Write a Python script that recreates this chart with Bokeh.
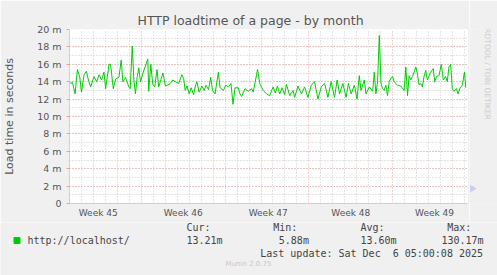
import math
from bokeh.plotting import figure
from bokeh.layouts import column, row
from bokeh.models import FixedTicker, Range1d, ColumnDataSource
from bokeh.core.properties import value
from bokeh.embed import file_html
from bokeh.resources import INLINE

# ---- data (days since left edge of graph, load time in ms) ----
days = [0.0, 0.25, 0.47, 0.66, 0.86, 1.0, 1.22, 1.41, 1.58, 1.77, 2.05, 2.27, 2.47, 2.69, 2.88,
        3.02, 3.30, 3.43, 3.66, 3.85, 4.13, 4.32, 4.46, 4.68, 4.96, 5.07, 5.24, 5.38, 5.51, 5.65,
        5.79, 5.93, 6.21, 6.34, 6.54, 6.62, 6.79, 6.96, 7.12, 7.31, 7.45, 7.67, 7.81, 8.01, 8.20,
        8.42, 8.62, 8.84, 9.12, 9.39, 9.53, 9.67, 9.81, 10.0, 10.17, 10.37, 10.5, 10.64, 10.83, 11.06,
        11.25, 11.41, 11.61, 11.8, 11.95, 12.16, 12.44, 12.58, 12.86, 13.05, 13.28, 13.49, 13.66, 13.83, 14.1,
        14.24, 14.38, 14.66, 14.94, 15.21,
        15.35, 15.71, 15.9, 16.18, 16.46, 16.73, 17.01, 17.2, 17.37, 17.56, 17.76, 17.98, 18.12, 18.4, 18.68,
        18.81, 19.09, 19.37, 19.64, 19.92, 20.2, 20.47, 20.76, 21.03, 21.31, 21.59, 21.86, 22.14, 22.36, 22.56,
        22.84, 23.11, 23.3, 23.53, 23.8, 24.02, 24.21, 24.35, 24.63, 24.77, 25.05, 25.33, 25.46, 25.6, 25.74,
        25.88, 26.02, 26.16, 26.29, 26.43, 26.57, 26.71, 26.85, 26.99, 27.12, 27.4, 27.68, 27.96, 28.1, 28.24,
        28.37, 28.51, 28.65, 28.79, 28.93, 29.07, 29.21, 29.34, 29.48, 29.62, 29.76, 29.9, 30.17, 30.39, 30.51,
        30.67, 30.87, 31.06, 31.23, 31.42, 31.56, 31.7, 31.84, 31.98, 32.11, 32.34, 32.45, 32.61, 32.81, 33.0,
        33.11]
load_ms = [13.8, 13.9, 12.6, 15.4, 14.5, 12.8, 14.8, 15.2, 14.2, 13.4, 14.6, 14.0, 14.8, 14.2, 15.1,
           13.2, 16.0, 16.0, 13.2, 14.3, 14.5, 16.5, 14.0, 14.5, 13.4, 13.2, 18.1, 14.2, 12.6, 14.5,
           15.6, 14.0, 15.3, 15.8, 16.6, 12.9, 16.0, 13.7, 13.4, 15.4, 13.4, 14.4, 15.0, 13.5, 13.6,
           13.8, 14.2, 14.0, 13.8, 14.8, 14.4, 13.0, 13.5, 12.6, 13.3, 12.5, 13.4, 14.0, 12.8, 13.5,
           13.0, 13.6, 13.1, 14.5, 13.0, 12.6, 15.1, 13.3, 13.0, 13.6, 13.4, 13.8, 11.4, 13.3, 13.3,
           12.6, 12.3, 13.2, 12.9, 13.2,
           12.8, 15.4, 13.8, 13.0, 12.6, 12.4, 13.4, 12.7, 13.5, 12.6, 13.3, 12.5, 13.7, 12.4, 13.0,
           12.2, 13.5, 12.6, 13.4, 12.2, 13.6, 14.0, 12.0, 13.4, 13.8, 12.2, 14.0, 12.2, 14.2, 12.6,
           13.8, 12.2, 13.8, 12.6, 13.6, 12.0, 14.7, 13.0, 14.2, 12.6, 13.4, 12.9, 15.1, 12.6, 14.0,
           19.3, 13.8, 13.2, 13.0, 13.6, 12.4, 14.0, 14.4, 14.6, 14.0, 13.6, 13.5, 13.0, 15.7, 12.4,
           14.7, 14.2, 14.6, 15.1, 15.7, 14.9, 13.6, 13.8, 13.4, 14.6, 15.3, 14.2, 15.1, 15.5, 14.0,
           14.6, 14.7, 16.0, 14.2, 14.6, 14.0, 15.7, 16.0, 13.2, 12.9, 13.2, 12.6, 13.2, 13.6, 15.1,
           13.3]

week_labels = ["Week 45", "Week 46", "Week 47", "Week 48", "Week 49"]
week_label_pos = [2.4, 9.5, 16.6, 23.5, 30.5]
week_bounds = [6, 13, 20, 27]
day_lines = [d for d in range(1, 34) if d not in week_bounds]
y_ticks = [0, 2, 4, 6, 8, 10, 12, 14, 16, 18, 20]
y_tick_labels = ["0", "2 m", "4 m", "6 m", "8 m", "10 m", "12 m", "14 m", "16 m", "18 m", "20 m"]

title_text = "HTTP loadtime of a page - by month"
y_title = "Load time in seconds"
series_name = "http://localhost/"
stat_names = ["Cur:", "Min:", "Avg:", "Max:"]
stat_values = ["13.21m", "5.88m", "13.60m", "130.17m"]
last_update = "Last update: Sat Dec \u00a06 05:00:08 2025"
side_text = "RRDTOOL / TOBI OETIKER"
footer = "Munin 2.0.75"

BG = "#f0f0f0"
GRID_RED = "#e8a4a4"
GRID_GRAY = "#c8c8c8"
AXIS_COL = "#c8ccf8"
TXT = "#555555"
LEG = "#444444"
MONO = "DejaVu Sans Mono"
SANS = "DejaVu Sans"

# layout sizes (pixels)
W, H = 497, 275
MAIN_W, MAIN_H = 469, 222
SIDE_W = W - MAIN_W
LEG_H = H - MAIN_H


def strip(w, h):
    f = figure(width=w, height=h, output_backend="svg", toolbar_location=None,
               x_range=Range1d(0, w), y_range=Range1d(h, 0),
               x_axis_type=None, y_axis_type=None, min_border=0)
    f.grid.visible = False
    f.outline_line_color = None
    f.background_fill_color = BG
    f.border_fill_color = BG
    return f


def txt(f, x, y, s, size, color=TXT, font=SANS, align="left", angle=0.0):
    f.text(x=[x], y=[y], text=[s], text_font=value(font), text_font_size=size,
           text_color=color, text_align=align, text_baseline="middle", angle=angle)


# ---- main chart ----
p = figure(width=MAIN_W, height=MAIN_H, output_backend="svg", toolbar_location=None,
           x_range=Range1d(0, 33.25), y_range=Range1d(0, 20),
           min_border_left=67, min_border_right=2, min_border_top=29, min_border_bottom=19)
p.border_fill_color = BG
p.background_fill_color = "white"
p.outline_line_color = None

p.title.text = title_text
p.title.align = "left"
p.title.offset = 68
p.title.text_font = SANS
p.title.text_font_size = "12.5px"
p.title.text_font_style = "normal"
p.title.text_color = TXT
p.title.standoff = 4

p.yaxis.ticker = FixedTicker(ticks=y_ticks, minor_ticks=list(range(0, 21)))
p.yaxis.major_label_overrides = {t: l for t, l in zip(y_ticks, y_tick_labels)}
p.yaxis.major_label_text_font = SANS
p.yaxis.major_label_text_font_size = "9.5px"
p.yaxis.major_label_text_color = TXT
p.yaxis.major_tick_out = 3
p.yaxis.major_tick_in = 0
p.yaxis.major_tick_line_color = GRID_RED
p.yaxis.minor_tick_line_color = None
p.yaxis.major_label_standoff = 4
p.yaxis.axis_line_color = AXIS_COL
p.yaxis.axis_label = y_title
p.yaxis.axis_label_text_font = SANS
p.yaxis.axis_label_text_font_style = "normal"
p.yaxis.axis_label_text_font_size = "11px"
p.yaxis.axis_label_text_color = TXT
p.yaxis.axis_label_standoff = 18

p.xaxis.ticker = FixedTicker(ticks=week_label_pos)
p.xaxis.major_label_overrides = {t: l for t, l in zip(week_label_pos, week_labels)}
p.xaxis.major_label_text_font = SANS
p.xaxis.major_label_text_font_size = "9px"
p.xaxis.major_label_text_color = TXT
p.xaxis.major_tick_line_color = None
p.xaxis.minor_tick_line_color = None
p.xaxis.major_tick_out = 0
p.xaxis.major_tick_in = 0
p.xaxis.major_label_standoff = 4
p.xaxis.axis_line_color = AXIS_COL

p.ygrid.grid_line_color = GRID_RED
p.ygrid.grid_line_dash = "1 2"
p.ygrid.minor_grid_line_color = GRID_GRAY
p.ygrid.minor_grid_line_dash = "1 2"
p.xgrid.ticker = FixedTicker(ticks=week_bounds, minor_ticks=day_lines)
p.xgrid.grid_line_color = GRID_RED
p.xgrid.grid_line_dash = "1 2"
p.xgrid.minor_grid_line_color = GRID_GRAY
p.xgrid.minor_grid_line_dash = "1 2"

src = ColumnDataSource(dict(x=days, y=load_ms))
p.line("x", "y", source=src, line_color="#00cc00", line_width=1)

# ---- right strip ----
side = strip(SIDE_W, MAIN_H)
txt(side, 18, 53.5, side_text, "7.5px", color="#cccccc", align="center", angle=-math.pi / 2)
side.scatter(x=[3], y=[203], marker="triangle", size=6, angle=-math.pi / 2,
             fill_color=AXIS_COL, line_color=AXIS_COL)

# ---- legend strip ----
leg = strip(W, LEG_H)
y0 = MAIN_H
leg.scatter(x=[16.5], y=[240 - y0], marker="square", size=6, color="#00cc00")
txt(leg, 27, 240 - y0, series_name, "10px", color=LEG, font=MONO)
name_x = [186, 272.7, 360, 446.7]
val_x = [186, 278.3, 360, 441]
for nm, vl, nx, vx in zip(stat_names, stat_values, name_x, val_x):
    txt(leg, nx, 227 - y0, nm, "10px", color=LEG, font=MONO)
    txt(leg, vx, 240 - y0, vl, "10px", color=LEG, font=MONO)
txt(leg, 482.5, 252.5 - y0, last_update, "10px", color=LEG, font=MONO, align="right")
txt(leg, 248, 263.5 - y0, footer, "7px", color="#c8c8c8", align="center")

layout = column(row(p, side, spacing=0), leg, spacing=0)
open("out.html", "w").write(file_html(layout, INLINE))
